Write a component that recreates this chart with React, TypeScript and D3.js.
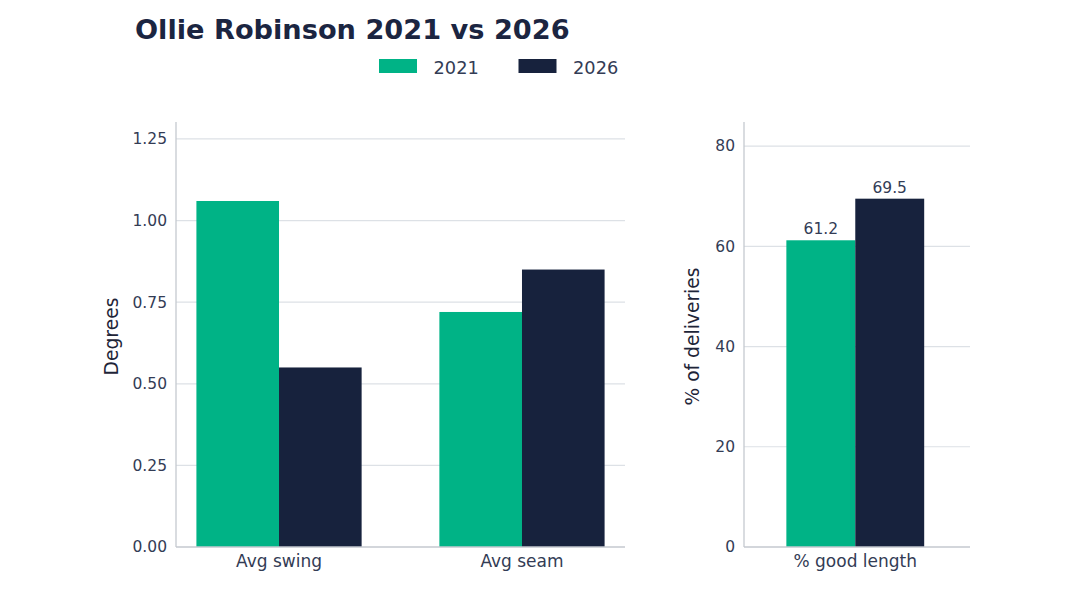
import React from "react";
import * as d3 from "d3";

const seriesNames = ["2021", "2026"];
const seriesColors = ["#00b386", "#17223d"];

const leftCategories = ["Avg swing", "Avg seam"];
const left2021 = [1.06, 0.72];
const left2026 = [0.55, 0.85];
const leftTicks = [0, 0.25, 0.5, 0.75, 1.0, 1.25];

const rightCategories = ["% good length"];
const right2021 = [61.2];
const right2026 = [69.5];
const rightTicks = [0, 20, 40, 60, 80];

const W = 1080;
const H = 608;
const FONT = "'DejaVu Sans', Verdana, sans-serif";
const TEXT = "#333c55";
const GRID = "#dde1e6";
const SPINE = "#c5c9cf";
const BAR_W = 0.34;

export default function App() {
  const top = 122;
  const bottom = 547;

  // Left panel
  const lx = d3.scaleLinear().domain([-0.424, 1.424]).range([176, 625]);
  const ly = d3.scaleLinear().domain([0, 1.302]).range([bottom, top]);
  // Right panel
  const rx = d3.scaleLinear().domain([-0.549, 0.566]).range([744, 970]);
  const ry = d3.scaleLinear().domain([0, 84.8]).range([bottom, top]);

  const leftSeries = [left2021, left2026];
  const rightSeries = [right2021, right2026];

  const panel = (
    cats: string[],
    series: number[][],
    x: d3.ScaleLinear<number, number>,
    y: d3.ScaleLinear<number, number>,
    ticks: number[],
    fmt: (v: number) => string,
    label: string,
    labelX: number,
    showValues: boolean
  ) => {
    const [x0, x1] = x.range();
    return (
      <g>
        {ticks.filter((t) => t > 0).map((t) => (
          <line key={"g" + t} x1={x0} x2={x1} y1={y(t)} y2={y(t)} stroke={GRID} strokeWidth={1.2} />
        ))}
        {cats.map((c, i) =>
          series.map((vals, s) => {
            const xl = x(i + (s - 1) * BAR_W);
            const xr = x(i + s * BAR_W);
            return (
              <rect
                key={c + s}
                x={xl}
                y={y(vals[i])}
                width={xr - xl}
                height={y(0) - y(vals[i])}
                fill={seriesColors[s]}
              />
            );
          })
        )}
        {showValues &&
          cats.map((c, i) =>
            series.map((vals, s) => (
              <text
                key={"v" + c + s}
                x={x(i + (s - 0.5) * BAR_W)}
                y={y(vals[i]) - 6}
                textAnchor="middle"
                fontSize={15.5}
                fill={TEXT}
                fontFamily={FONT}
              >
                {vals[i].toFixed(1)}
              </text>
            ))
          )}
        <line x1={x0} x2={x0} y1={top} y2={bottom} stroke={SPINE} strokeWidth={1.3} />
        <line x1={x0} x2={x1} y1={bottom} y2={bottom} stroke={SPINE} strokeWidth={1.3} />
        {ticks.map((t) => (
          <text
            key={"t" + t}
            x={x0 - 9}
            y={y(t)}
            dy="0.35em"
            textAnchor="end"
            fontSize={15.5}
            fill={TEXT}
            fontFamily={FONT}
          >
            {fmt(t)}
          </text>
        ))}
        {cats.map((c, i) => (
          <text
            key={"c" + c}
            x={x(i)}
            y={bottom + 20}
            textAnchor="middle"
            fontSize={17}
            fill={TEXT}
            fontFamily={FONT}
          >
            {c}
          </text>
        ))}
        <text
          transform={`translate(${labelX},${(top + bottom) / 2 + 2}) rotate(-90)`}
          textAnchor="middle"
          fontSize={18.7}
          fill="#1e2538"
          fontFamily={FONT}
        >
          {label}
        </text>
      </g>
    );
  };

  return (
    <div style={{ position: "absolute", left: 0, top: 0 }}>
      <svg width={W} height={H} viewBox={`0 0 ${W} ${H}`} style={{ display: "block", background: "#fff" }}>
        <text x={135} y={39} fontSize={27.2} fontWeight="bold" fill="#1b2541" fontFamily={FONT}>
          Ollie Robinson 2021 vs 2026
        </text>
        {seriesNames.map((n, i) => (
          <g key={n} transform={`translate(${379 + i * 139.5},0)`}>
            <rect x={0} y={59} width={38} height={14} fill={seriesColors[i]} />
            <text x={54.5} y={74} fontSize={17.8} fill={TEXT} fontFamily={FONT}>
              {n}
            </text>
          </g>
        ))}
        {panel(leftCategories, leftSeries, lx, ly, leftTicks, (v) => v.toFixed(2), "Degrees", 118, false)}
        {panel(rightCategories, rightSeries, rx, ry, rightTicks, (v) => String(v), "% of deliveries", 699, true)}
      </svg>
    </div>
  );
}
